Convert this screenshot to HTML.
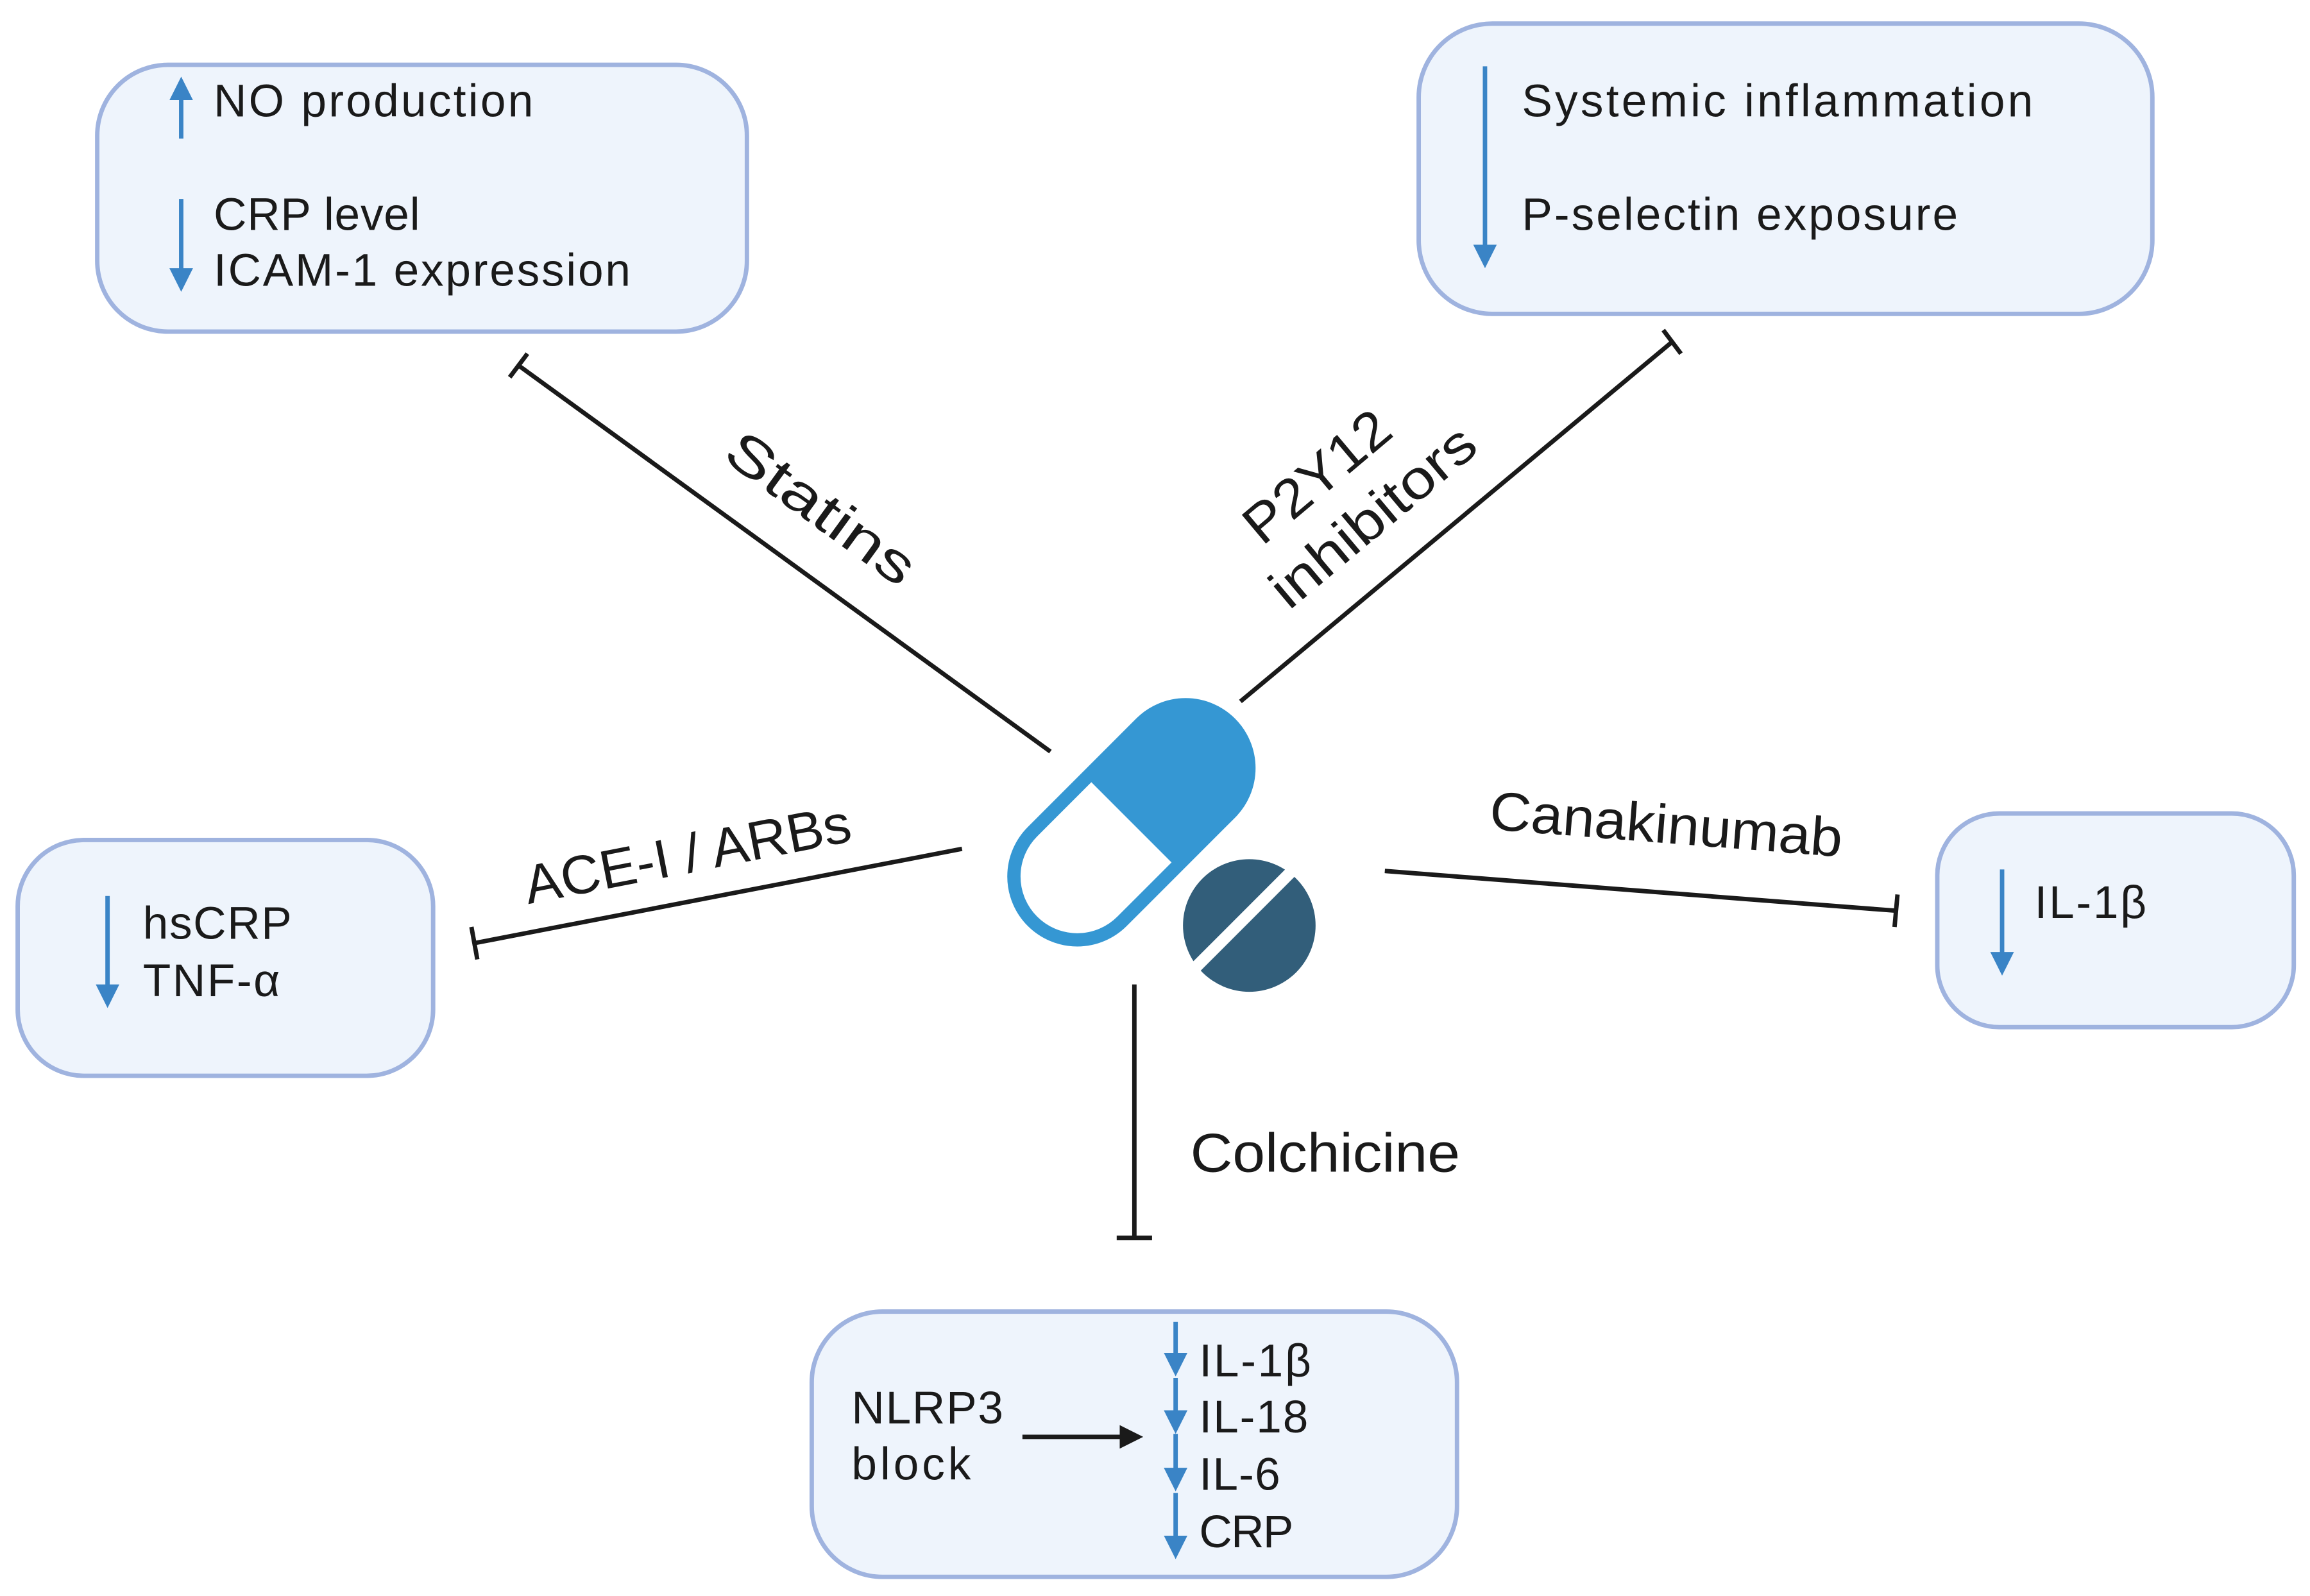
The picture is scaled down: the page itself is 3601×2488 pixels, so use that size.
<!DOCTYPE html>
<html><head><meta charset="utf-8"><style>
html,body{margin:0;padding:0;background:#fff;}
svg{display:block;}
text{font-family:"Liberation Sans",sans-serif;fill:#1a1a1a;}
</style></head><body>
<svg width="3601" height="2488" viewBox="0 0 1568 1083" preserveAspectRatio="none" xmlns="http://www.w3.org/2000/svg">
<defs>
<marker id="ah" markerWidth="16" markerHeight="16" refX="8" refY="8" orient="auto" markerUnits="userSpaceOnUse" viewBox="0 0 16 16">
<path d="M0,0 L16,8 L0,16 z" fill="#3a84c6"/></marker>
<marker id="bk" markerWidth="16" markerHeight="16" refX="8" refY="8" orient="auto" markerUnits="userSpaceOnUse" viewBox="0 0 16 16">
<path d="M0,0 L16,8 L0,16 z" fill="#1a1a1a"/></marker>
</defs>
<g fill="#eef4fc" stroke="#9fb3df" stroke-width="3">
<rect x="66" y="44" width="441" height="181" rx="48"/>
<rect x="963" y="16" width="498" height="197" rx="50"/>
<rect x="12" y="570" width="282" height="160" rx="45"/>
<rect x="1315" y="552" width="242" height="145" rx="42"/>
<rect x="551" y="890" width="438" height="180" rx="48"/>
</g>
<g stroke="#3a84c6" stroke-width="3">
<line x1="123" y1="94" x2="123" y2="60" marker-end="url(#ah)"/>
<line x1="123" y1="135" x2="123" y2="190" marker-end="url(#ah)"/>
<line x1="1008" y1="45" x2="1008" y2="174" marker-end="url(#ah)"/>
<line x1="73" y1="608" x2="73" y2="676" marker-end="url(#ah)"/>
<line x1="1359" y1="590" x2="1359" y2="654" marker-end="url(#ah)"/>
<line x1="798" y1="897" x2="798" y2="926" marker-end="url(#ah)"/>
<line x1="798" y1="935" x2="798" y2="965" marker-end="url(#ah)"/>
<line x1="798" y1="973" x2="798" y2="1004" marker-end="url(#ah)"/>
<line x1="798" y1="1013" x2="798" y2="1050" marker-end="url(#ah)"/>
</g>
<g stroke="#1a1a1a" stroke-width="3" fill="none">
<line x1="713" y1="510" x2="352" y2="248"/><line x1="358" y1="240" x2="346" y2="256"/>
<line x1="842" y1="476" x2="1135" y2="232"/><line x1="1129" y1="224" x2="1141" y2="240"/>
<line x1="653" y1="576" x2="322" y2="640"/><line x1="320" y1="629" x2="324" y2="651"/>
<line x1="940" y1="591" x2="1287" y2="618"/><line x1="1288" y1="607" x2="1286" y2="629"/>
<line x1="770" y1="668" x2="770" y2="840"/><line x1="758" y1="840" x2="782" y2="840"/>
<line x1="694" y1="975" x2="768" y2="975" marker-end="url(#bk)"/>
</g>
<g font-size="31" lengthAdjust="spacingAndGlyphs">
<text x="145" y="79" textLength="217">NO production</text>
<text x="145" y="156" textLength="140">CRP level</text>
<text x="145" y="194" textLength="283">ICAM-1 expression</text>
<text x="1033" y="79" textLength="347">Systemic inflammation</text>
<text x="1033" y="156" textLength="296">P-selectin exposure</text>
<text x="97" y="637" textLength="101">hsCRP</text>
<text x="97" y="676" textLength="93">TNF-α</text>
<text x="1381" y="623" textLength="76">IL-1β</text>
<text x="578" y="966" textLength="103">NLRP3</text>
<text x="578" y="1004" textLength="81">block</text>
<text x="814" y="934" textLength="76">IL-1β</text>
<text x="814" y="972" textLength="74">IL-18</text>
<text x="814" y="1011" textLength="55">IL-6</text>
<text x="814" y="1050" textLength="64">CRP</text>
</g>
<g font-size="37">
<text transform="translate(550,355) rotate(36)" text-anchor="middle" textLength="150" lengthAdjust="spacingAndGlyphs">Statins</text>
<text transform="translate(902,333) rotate(-40)" text-anchor="middle" textLength="118" lengthAdjust="spacingAndGlyphs">P2Y12</text>
<text transform="translate(940,360) rotate(-40)" text-anchor="middle" textLength="170" lengthAdjust="spacingAndGlyphs">inhibitors</text>
<text transform="translate(469,592) rotate(-11)" text-anchor="middle" textLength="225" lengthAdjust="spacingAndGlyphs">ACE-I / ARBs</text>
<text transform="translate(1130,572) rotate(4.5)" text-anchor="middle" textLength="240" lengthAdjust="spacingAndGlyphs">Canakinumab</text>
<text x="808" y="795" textLength="183" lengthAdjust="spacingAndGlyphs">Colchicine</text>
</g>
<g transform="translate(768,558) rotate(-45)">
<rect x="-95" y="-43" width="190" height="86" rx="43" fill="#fff" stroke="#3597d3" stroke-width="9"/>
<path d="M0,-47 L52,-47 A47,47 0 0 1 52,47 L0,47 Z" fill="#3597d3"/>
</g>
<g transform="translate(848,628)">
<circle r="45" fill="#325e7a"/>
<line x1="-38" y1="30" x2="30" y2="-38" stroke="#fff" stroke-width="8"/>
</g>
</svg>
</body></html>
